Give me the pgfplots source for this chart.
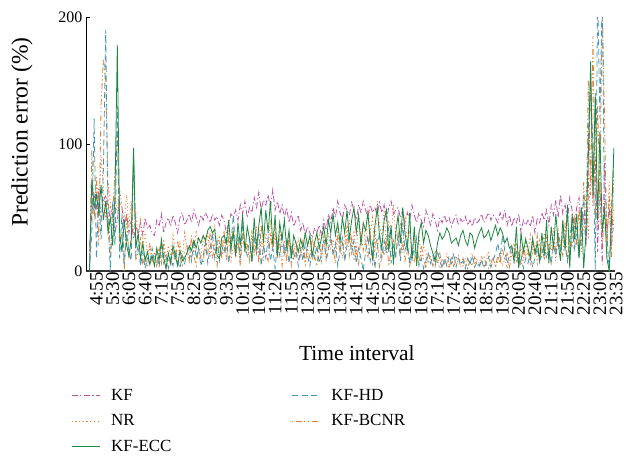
\documentclass[border=0pt]{standalone}
\usepackage{fontspec}
\setmainfont{Liberation Serif}
\usepackage{pgfplots}
\usepackage{pgfplotstable}
\pgfplotsset{compat=1.18}
\definecolor{cKF}{RGB}{185,85,165}
\definecolor{cNR}{RGB}{240,125,55}
\definecolor{cECC}{RGB}{30,135,65}
\definecolor{cHD}{RGB}{70,150,180}
\definecolor{cBC}{RGB}{220,130,50}

\pgfplotstableread[row sep=\\]{y\\
20\\45\\60\\50\\65\\40\\55\\
60\\35\\50\\45\\30\\40\\55\\
50\\35\\45\\30\\40\\25\\35\\
30\\38\\28\\42\\33\\36\\30\\
28\\40\\35\\45\\30\\38\\42\\
35\\44\\38\\30\\42\\46\\36\\
40\\45\\38\\48\\42\\36\\44\\
40\\46\\42\\38\\45\\40\\43\\
36\\44\\40\\30\\38\\45\\42\\
48\\40\\52\\45\\55\\42\\50\\
46\\58\\50\\62\\48\\56\\52\\
60\\50\\64\\48\\55\\45\\52\\
42\\50\\38\\46\\35\\40\\44\\
32\\38\\28\\35\\30\\26\\34\\
30\\36\\28\\40\\32\\45\\38\\
50\\42\\55\\46\\40\\52\\48\\
44\\54\\48\\40\\52\\46\\55\\
48\\42\\52\\46\\50\\44\\54\\
46\\52\\40\\50\\55\\45\\48\\
50\\42\\48\\38\\46\\40\\52\\
44\\38\\46\\40\\35\\48\\42\\
36\\45\\40\\32\\42\\38\\44\\
38\\42\\35\\40\\44\\36\\41\\
38\\43\\36\\40\\35\\42\\38\\
40\\45\\38\\42\\46\\40\\44\\
42\\38\\46\\40\\48\\36\\44\\
35\\42\\38\\45\\30\\40\\36\\
40\\35\\44\\30\\42\\38\\46\\
40\\48\\36\\52\\44\\56\\42\\
60\\45\\52\\40\\58\\48\\35\\
50\\58\\35\\45\\20\\60\\160\\55\\90\\15\\70\\5\\85\\30\\50\\20\\40\\
}\kfdata

\pgfplotstableread[row sep=\\]{y\\
10\\60\\45\\75\\50\\90\\65\\
40\\70\\55\\35\\60\\45\\65\\
50\\40\\60\\35\\55\\30\\45\\
25\\40\\20\\30\\12\\22\\8\\
15\\5\\18\\10\\25\\8\\20\\
12\\28\\15\\6\\22\\10\\30\\
18\\8\\25\\14\\32\\20\\10\\
26\\15\\30\\12\\22\\35\\18\\
28\\10\\24\\16\\32\\8\\20\\
14\\26\\6\\30\\18\\22\\10\\
28\\15\\35\\12\\24\\8\\30\\
20\\40\\15\\28\\10\\32\\18\\
24\\6\\30\\14\\22\\10\\26\\
12\\20\\5\\18\\26\\10\\22\\
15\\28\\8\\24\\12\\30\\18\\
25\\14\\35\\20\\10\\30\\22\\
40\\18\\32\\12\\45\\26\\38\\
20\\50\\30\\42\\15\\55\\35\\
28\\48\\18\\40\\25\\52\\30\\
22\\38\\14\\44\\20\\32\\10\\
26\\12\\30\\8\\20\\14\\6\\
12\\4\\16\\8\\2\\10\\6\\
14\\5\\10\\3\\12\\6\\8\\
4\\10\\2\\8\\14\\5\\9\\
6\\12\\3\\8\\15\\5\\10\\
3\\8\\12\\4\\10\\2\\7\\
16\\6\\22\\10\\18\\8\\25\\
12\\28\\14\\20\\6\\24\\15\\
30\\10\\22\\16\\34\\8\\26\\
18\\40\\20\\45\\12\\35\\22\\
30\\45\\15\\35\\60\\25\\90\\50\\120\\35\\70\\20\\55\\10\\70\\30\\50\\
}\nrdata

\pgfplotstableread[row sep=\\]{y\\
0\\72\\50\\60\\45\\68\\40\\
55\\30\\42\\20\\60\\178\\30\\
15\\40\\20\\12\\25\\97\\18\\
30\\10\\22\\8\\15\\5\\12\\
4\\18\\8\\25\\10\\2\\14\\
6\\20\\12\\4\\16\\8\\10\\
14\\20\\16\\24\\18\\26\\22\\
28\\24\\32\\35\\30\\33\\12\\
10\\26\\28\\22\\40\\18\\30\\
12\\38\\20\\45\\15\\35\\25\\
8\\42\\18\\36\\50\\22\\48\\
30\\55\\20\\44\\12\\38\\25\\
40\\18\\32\\10\\28\\22\\15\\
25\\18\\30\\20\\28\\12\\22\\
30\\18\\26\\35\\20\\40\\30\\
45\\28\\38\\22\\42\\30\\48\\
25\\40\\50\\30\\44\\20\\38\\
32\\46\\24\\10\\35\\50\\28\\
18\\40\\48\\15\\36\\5\\30\\
44\\22\\50\\30\\16\\46\\8\\
35\\4\\30\\38\\22\\32\\28\\
20\\14\\8\\22\\30\\25\\28\\
34\\30\\22\\24\\26\\20\\28\\
32\\24\\20\\30\\28\\18\\25\\
30\\34\\26\\28\\32\\24\\30\\
36\\28\\34\\30\\22\\26\\18\\
20\\8\\35\\2\\30\\15\\25\\
18\\10\\26\\14\\22\\8\\30\\
12\\40\\6\\35\\18\\45\\22\\
8\\40\\16\\52\\2\\45\\25\\
45\\10\\50\\2\\30\\90\\165\\60\\140\\40\\110\\30\\50\\10\\0\\40\\97\\
}\eccdata

\pgfplotstableread[row sep=\\]{y\\
0\\30\\120\\10\\60\\25\\80\\
190\\40\\0\\55\\20\\130\\10\\
45\\5\\30\\15\\8\\95\\12\\
20\\4\\15\\2\\10\\6\\18\\
8\\14\\3\\20\\6\\12\\2\\
10\\4\\16\\8\\2\\12\\6\\
14\\20\\8\\25\\10\\18\\4\\
12\\22\\6\\18\\30\\10\\24\\
8\\20\\14\\28\\6\\22\\44\\
16\\30\\10\\38\\20\\12\\25\\
6\\28\\14\\32\\4\\20\\10\\
26\\8\\18\\2\\22\\12\\30\\
14\\24\\6\\20\\10\\16\\4\\
18\\8\\22\\12\\4\\16\\10\\
20\\6\\14\\24\\10\\18\\28\\
12\\22\\4\\16\\26\\8\\20\\
30\\14\\24\\6\\18\\10\\0\\
15\\28\\8\\22\\2\\18\\30\\
10\\24\\14\\35\\6\\20\\12\\
28\\8\\38\\16\\24\\6\\20\\
12\\26\\4\\10\\2\\8\\14\\
6\\12\\4\\16\\8\\2\\10\\
4\\12\\6\\14\\3\\10\\5\\
8\\2\\10\\5\\12\\3\\7\\
4\\9\\2\\6\\11\\3\\8\\
14\\22\\10\\28\\16\\6\\12\\
20\\8\\15\\4\\12\\2\\10\\
6\\14\\3\\10\\18\\8\\12\\
22\\10\\16\\6\\20\\12\\28\\
14\\30\\20\\8\\25\\40\\15\\
35\\10\\30\\60\\20\\110\\140\\100\\0\\220\\120\\220\\40\\30\\0\\50\\90\\
}\hddata

\pgfplotstableread[row sep=\\]{y\\
0\\95\\40\\70\\20\\130\\167\\
150\\60\\10\\45\\80\\110\\20\\
30\\0\\45\\10\\25\\85\\8\\
15\\25\\5\\12\\3\\20\\8\\
12\\4\\18\\6\\22\\2\\10\\
5\\16\\8\\24\\12\\3\\14\\
20\\8\\28\\12\\4\\18\\10\\
6\\25\\14\\30\\10\\20\\4\\
22\\12\\32\\8\\26\\16\\35\\
10\\24\\4\\30\\14\\20\\8\\
32\\12\\26\\6\\36\\18\\14\\
8\\28\\16\\36\\10\\24\\4\\
20\\10\\26\\4\\16\\22\\8\\
14\\24\\6\\18\\10\\28\\12\\
4\\20\\12\\30\\8\\16\\24\\
18\\6\\28\\14\\22\\10\\36\\
12\\26\\8\\20\\4\\30\\16\\
24\\10\\32\\6\\18\\26\\2\\
20\\12\\28\\4\\16\\24\\10\\
30\\14\\22\\8\\18\\4\\12\\
8\\16\\4\\20\\10\\2\\14\\
10\\4\\12\\6\\14\\3\\8\\
6\\2\\10\\4\\8\\12\\3\\
10\\5\\2\\8\\4\\11\\6\\
3\\8\\12\\5\\2\\7\\10\\
4\\12\\6\\18\\8\\14\\3\\
12\\22\\8\\16\\4\\20\\10\\
16\\6\\22\\12\\28\\8\\18\\
10\\26\\14\\6\\24\\16\\32\\
20\\12\\38\\6\\28\\18\\44\\
20\\50\\20\\70\\30\\150\\60\\185\\40\\130\\60\\210\\120\\20\\60\\10\\80\\
}\bcdata

\tikzset{
  sKF/.style={color=cKF, dash pattern=on 6pt off 2.5pt on 1.2pt off 2.5pt},
  sNR/.style={color=cNR, dash pattern=on 1.2pt off 2.5pt},
  sECC/.style={color=cECC, solid},
  sHD/.style={color=cHD, dash pattern=on 6pt off 3.5pt},
  sBC/.style={color=cBC, dash pattern=on 1.2pt off 2.5pt on 6pt off 2.5pt on 1.2pt off 2.5pt},
}

\begin{document}
\begin{tikzpicture}
\begin{axis}[
  scale only axis, width=529pt, height=254pt,
  at={(0pt,0pt)}, anchor=south west,
  xmin=-1.5, xmax=226.5, ymin=0, ymax=200,
  axis x line*=bottom, axis y line*=left,
  axis line style={-},
  x axis line style={line width=1.4pt, draw=black!80},
  y axis line style={line width=0.8pt, draw=black},
  ytick={0,100,200},
  tick align=inside,
  major tick length=4pt,
  ytick style={line width=0.8pt, black},
  xtick={0,7,...,224},
  xtick style={draw=none},
  xticklabels={4:55,5:30,6:05,6:40,7:15,7:50,8:25,9:00,9:35,10:10,10:45,11:20,11:55,12:30,13:05,13:40,14:15,14:50,15:25,16:00,16:35,17:10,17:45,18:20,18:55,19:30,20:05,20:40,21:15,21:50,22:25,23:00,23:35},
  xticklabel style={rotate=90, anchor=east, font=\fontsize{19}{19}\selectfont, inner sep=1pt, yshift=-7pt},
  yticklabel style={font=\fontsize{16}{18}\selectfont},
  /pgf/number format/assume math mode=true,
  xlabel={Time interval},
  ylabel={Prediction error (\%)},
  xlabel style={font=\fontsize{21.5}{23}\selectfont, at={(axis description cs:0.512,-0.325)}, anchor=center},
  ylabel style={font=\fontsize{23.5}{25}\selectfont, at={(axis description cs:-0.121,0.547)}, anchor=center, rotate=0},
  every axis plot/.append style={line width=0.8pt},
  legend columns=2,
  legend cell align=left,
  legend style={draw=none, fill=none, at={(axis description cs:-0.034,-0.448)}, anchor=north west,
    font=\fontsize{17}{19}\selectfont, row sep=9pt,
    /tikz/every odd column/.append style={column sep=9pt},
    /tikz/every even column/.append style={column sep=118pt}},
  legend image code/.code={\draw[line width=0.9pt] (0pt,0pt) -- (28pt,0pt);},
]
\addplot[sKF, forget plot] table[x expr=\coordindex, y=y] {\kfdata};
\addplot[sNR, forget plot] table[x expr=\coordindex, y=y] {\nrdata};
\addplot[sBC, forget plot] table[x expr=\coordindex, y=y] {\bcdata};
\addplot[sHD, forget plot] table[x expr=\coordindex, y=y] {\hddata};
\addplot[sECC, forget plot] table[x expr=\coordindex, y=y] {\eccdata};
\addlegendimage{sKF}\addlegendentry{KF}
\addlegendimage{sHD}\addlegendentry{KF-HD}
\addlegendimage{sNR}\addlegendentry{NR}
\addlegendimage{sBC}\addlegendentry{KF-BCNR}
\addlegendimage{sECC}\addlegendentry{KF-ECC}
\end{axis}
\path[use as bounding box] (-86pt,-189pt) rectangle (541pt,271pt);
\end{tikzpicture}
\end{document}
